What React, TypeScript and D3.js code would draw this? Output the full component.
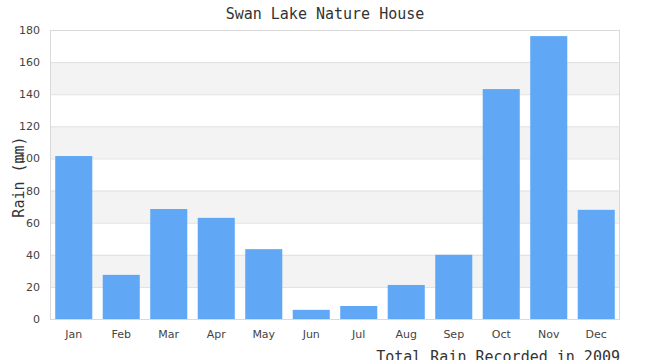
import React from "react";
import * as d3 from "d3";

const months = ["Jan","Feb","Mar","Apr","May","Jun","Jul","Aug","Sep","Oct","Nov","Dec"];
const rain = [101.5, 27.5, 68.5, 63, 43.5, 5.7, 8.1, 21.2, 40, 143.2, 176.2, 68];
const yTicks = [0,20,40,60,80,100,120,140,160,180];
const greyBands = [[20,40],[60,80],[100,120],[140,160]];

export default function App() {
  const W = 650, H = 360;
  const left = 50, right = 620, top = 30, bottom = 319;
  const x = d3.scaleBand().domain(months).range([left, right]).paddingInner(0.22).paddingOuter(0.11);
  const y = d3.scaleLinear().domain([0, 180]).range([bottom, top]);
  const mono = "'DejaVu Sans Mono', monospace";
  const sans = "'DejaVu Sans', sans-serif";
  return (
    <svg width={W} height={H} style={{ position: "absolute", left: 0, top: 0 }}>
      <rect width={W} height={H} fill="#fff" />
      {greyBands.map(([a, b], i) => (
        <rect key={i} x={left} y={y(b)} width={right - left} height={y(a) - y(b)} fill="#f3f3f3" />
      ))}
      {yTicks.map(t => (
        <line key={t} x1={left} x2={right} y1={y(t) + 0.5} y2={y(t) + 0.5} stroke="#e0e0e0" />
      ))}
      <rect x={left + 0.5} y={top + 0.5} width={right - left - 1} height={bottom - top} fill="none" stroke="#dadada" />
      {rain.map((v, i) => (
        <rect key={i} x={x(months[i])} y={y(v)} width={x.bandwidth()} height={bottom - y(v)} fill="#60a8f5" />
      ))}
      {yTicks.map(t => (
        <text key={t} x={40} y={y(t) + 4} textAnchor="end" fontFamily={sans} fontSize={11} fill="#444">{t}</text>
      ))}
      {months.map(m => (
        <text key={m} x={x(m)! + x.bandwidth() / 2} y={338} textAnchor="middle" fontFamily={sans} fontSize={11} fill="#444">{m}</text>
      ))}
      <text x={325} y={19} textAnchor="middle" fontFamily={mono} fontSize={15} fill="#333">Swan Lake Nature House</text>
      <text transform="translate(24,177) rotate(-90)" textAnchor="middle" fontFamily={mono} fontSize={15} fill="#333">Rain (mm)</text>
      <text x={620} y={362} textAnchor="end" fontFamily={mono} fontSize={15} fill="#333">Total Rain Recorded in 2009</text>
    </svg>
  );
}
